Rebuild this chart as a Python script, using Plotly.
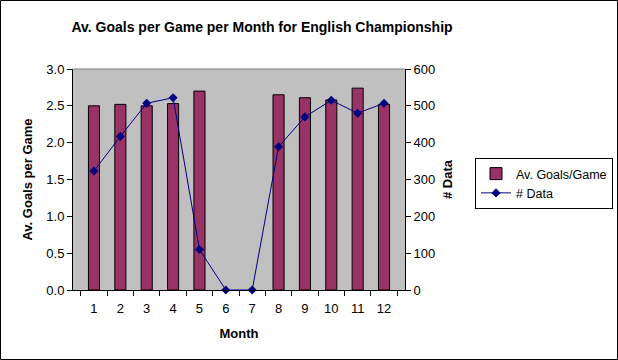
import plotly.graph_objects as go

months = ["1", "2", "3", "4", "5", "6", "7", "8", "9", "10", "11", "12"]
avg_goals = [2.50, 2.52, 2.50, 2.53, 2.70, None, None, 2.65, 2.61, 2.58, 2.74, 2.52]
n_data = [323, 417, 507, 522, 110, 0, 0, 389, 470, 515, 480, 507]

W, H = 618, 360
L, R, T, B = 73, 213, 69, 70
pw, ph = W - L - R, H - T - B
FONT = "Liberation Sans, Arial, sans-serif"

fig = go.Figure()
fig.add_trace(go.Bar(
    x=months, y=avg_goals, name="Av. Goals/Game",
    marker=dict(color="#993366", line=dict(color="black", width=1)),
    width=0.42, yaxis="y",
))
fig.add_trace(go.Scatter(
    x=months, y=n_data, name="# Data", mode="lines+markers",
    line=dict(color="#000080", width=1),
    marker=dict(symbol="diamond", size=7, color="#000080"),
    yaxis="y2", cliponaxis=False,
))

fig.update_layout(
    width=W, height=H,
    margin=dict(l=L, r=R, t=T, b=B, autoexpand=False),
    paper_bgcolor="white", plot_bgcolor="#C0C0C0",
    font=dict(family=FONT, size=13, color="black"),
    title=dict(text="<b>Av. Goals per Game per Month for English Championship</b>",
               x=262 / W, xanchor="center", y=1 - 27 / H, yanchor="middle",
               font=dict(size=14, family=FONT)),
    showlegend=True,
    legend=dict(x=(475 - L) / pw, y=1 - (158 - T) / ph, xanchor="left", yanchor="top",
                bordercolor="black", borderwidth=1, bgcolor="white",
                font=dict(size=12.5, family=FONT), tracegroupgap=0),
    xaxis=dict(type="category", tickson="boundaries", ticks="outside", ticklen=5,
               tickcolor="black", showline=True, linecolor="black", linewidth=1,
               showgrid=False, zeroline=False, ticklabelstandoff=6,
               title=dict(text="<b>Month</b>", standoff=14, font=dict(size=13))),
    yaxis=dict(range=[0, 3.0], dtick=0.5, tickformat=".1f", ticks="outside", ticklen=5,
               tickcolor="black", showline=True, linecolor="black", linewidth=1,
               showgrid=False, zeroline=False,
               title=dict(text="<b>Av. Goals per Game</b>", standoff=10, font=dict(size=13))),
    yaxis2=dict(range=[0, 600], dtick=100, overlaying="y", side="right", ticks="outside",
                ticklen=5, tickcolor="black", showline=True, linecolor="black", linewidth=1,
                showgrid=False, zeroline=False,
                title=dict(text="<b># Data</b>", standoff=8, font=dict(size=13))),
    shapes=[
        dict(type="line", xref="paper", yref="paper", x0=0, x1=1, y0=1, y1=1,
             line=dict(color="#808080", width=1)),
        dict(type="rect", xref="paper", yref="paper",
             x0=(-L + 0.5) / pw, x1=(W - L - 0.5) / pw,
             y0=-(B - 0.5) / ph, y1=1 + (T - 0.5) / ph,
             line=dict(color="black", width=1)),
    ],
)

fig.write_html("out.html", config={"displayModeBar": False},
               post_script="document.body.style.margin='0';")
